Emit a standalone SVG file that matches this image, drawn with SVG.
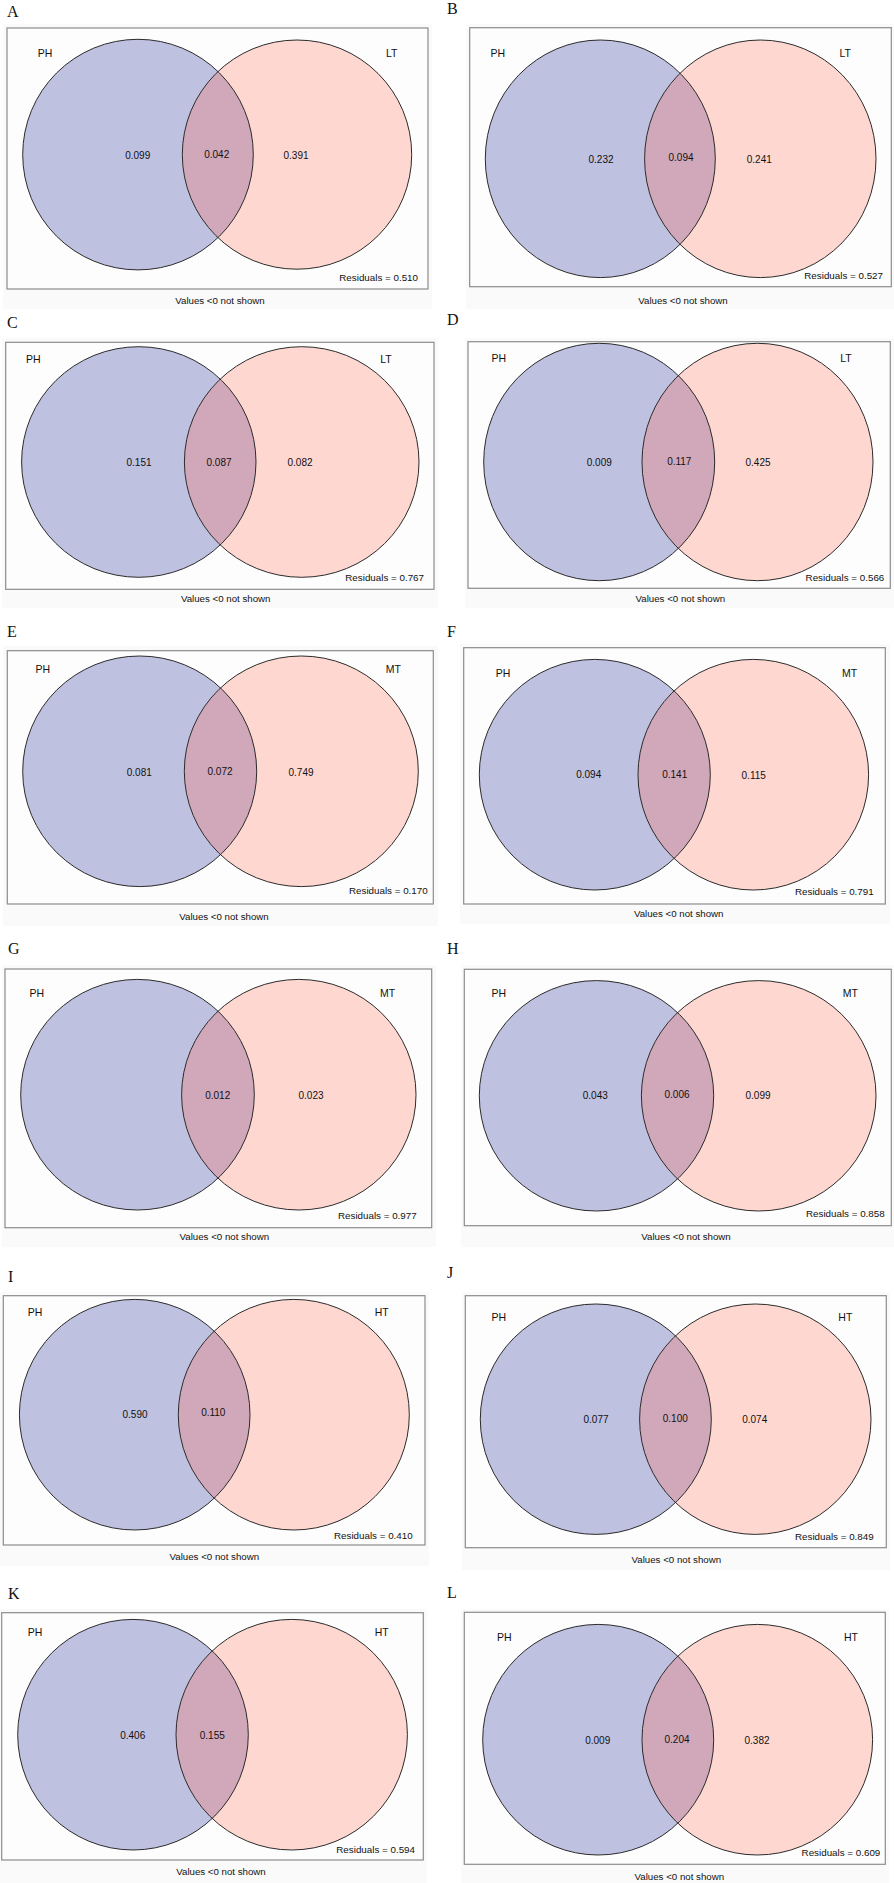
<svg xmlns="http://www.w3.org/2000/svg" width="894" height="1883" viewBox="0 0 894 1883">
<style>
.bg{fill:#fafafa}
.box{fill:#fdfdfd;stroke:#8c8c8c;stroke-width:1.2}
.cl{fill:#bfc1e0}
.cr{fill:#fed8d0}
.lens{fill:#d1a8b9}
.ol{fill:none;stroke:#2b2b2b;stroke-width:1}
.t{font-family:"Liberation Sans",Arial,sans-serif;font-size:10px;fill:#111;text-anchor:middle}
.s{font-family:"Liberation Sans",Arial,sans-serif;font-size:10.5px;fill:#111;text-anchor:middle}
.r{font-family:"Liberation Sans",Arial,sans-serif;font-size:9.8px;fill:#111;text-anchor:end}
.v{font-family:"Liberation Sans",Arial,sans-serif;font-size:9.7px;fill:#111;text-anchor:middle}
.pl{font-family:"Liberation Serif","Times New Roman",serif;font-size:16px;fill:#111}
</style>
<defs>
<clipPath id="cA"><ellipse cx="138" cy="154.6" rx="115.3" ry="115.3"/></clipPath>
<clipPath id="cB"><ellipse cx="600.3" cy="158.8" rx="115" ry="118.8"/></clipPath>
<clipPath id="cC"><ellipse cx="138.8" cy="462" rx="117.2" ry="115.3"/></clipPath>
<clipPath id="cD"><ellipse cx="599.2" cy="462" rx="115.5" ry="118.7"/></clipPath>
<clipPath id="cE"><ellipse cx="139.7" cy="771.3" rx="117" ry="115.3"/></clipPath>
<clipPath id="cF"><ellipse cx="594.8" cy="774.7" rx="115.5" ry="115.3"/></clipPath>
<clipPath id="cG"><ellipse cx="137.5" cy="1094.7" rx="116.8" ry="115.3"/></clipPath>
<clipPath id="cH"><ellipse cx="596.5" cy="1095.8" rx="117.2" ry="115.2"/></clipPath>
<clipPath id="cI"><ellipse cx="134.7" cy="1414.7" rx="115.3" ry="115.3"/></clipPath>
<clipPath id="cJ"><ellipse cx="595.8" cy="1419.2" rx="115.5" ry="115.2"/></clipPath>
<clipPath id="cK"><ellipse cx="133" cy="1734.7" rx="115.3" ry="115.3"/></clipPath>
<clipPath id="cL"><ellipse cx="598.2" cy="1739.7" rx="115.5" ry="115.3"/></clipPath>
</defs>
<rect x="0" y="0" width="894" height="1883" fill="#ffffff"/>

<g id="panelA">
<text class="pl" x="7" y="17">A</text>
<rect class="bg" x="3" y="24" width="429" height="285"/>
<rect class="box" x="7" y="28" width="421" height="261"/>
<ellipse class="cl" cx="138" cy="154.6" rx="115.3" ry="115.3"/>
<ellipse class="cr" cx="297" cy="154.6" rx="114.7" ry="114.6"/>
<ellipse class="lens" clip-path="url(#cA)" cx="297" cy="154.6" rx="114.7" ry="114.6"/>
<ellipse class="ol" cx="138" cy="154.6" rx="115.3" ry="115.3"/>
<ellipse class="ol" cx="297" cy="154.6" rx="114.7" ry="114.6"/>
<text class="s" x="45" y="56.5">PH</text>
<text class="s" x="391.7" y="56.5">LT</text>
<text class="t" x="137.7" y="158.5">0.099</text>
<text class="t" x="216.7" y="157.5">0.042</text>
<text class="t" x="296" y="158.5">0.391</text>
<text class="r" x="418" y="281.2">Residuals = 0.510</text>
<text class="v" x="220" y="303.5">Values &lt;0 not shown</text>
</g>

<g id="panelB">
<text class="pl" x="447" y="13.5">B</text>
<rect class="bg" x="466" y="24" width="428" height="285"/>
<rect class="box" x="469.7" y="27.7" width="421.6" height="259"/>
<ellipse class="cl" cx="600.3" cy="158.8" rx="115" ry="118.8"/>
<ellipse class="cr" cx="760.3" cy="158.8" rx="115.7" ry="118.8"/>
<ellipse class="lens" clip-path="url(#cB)" cx="760.3" cy="158.8" rx="115.7" ry="118.8"/>
<ellipse class="ol" cx="600.3" cy="158.8" rx="115" ry="118.8"/>
<ellipse class="ol" cx="760.3" cy="158.8" rx="115.7" ry="118.8"/>
<text class="s" x="497.7" y="56.5">PH</text>
<text class="s" x="845.3" y="56.5">LT</text>
<text class="t" x="601" y="162.5">0.232</text>
<text class="t" x="681" y="160.8">0.094</text>
<text class="t" x="759.3" y="162.5">0.241</text>
<text class="r" x="883" y="279.2">Residuals = 0.527</text>
<text class="v" x="683" y="303.5">Values &lt;0 not shown</text>
</g>

<g id="panelC">
<text class="pl" x="7" y="328">C</text>
<rect class="bg" x="2" y="338" width="436" height="270"/>
<rect class="box" x="5.7" y="342.3" width="428.3" height="247"/>
<ellipse class="cl" cx="138.8" cy="462" rx="117.2" ry="115.3"/>
<ellipse class="cr" cx="301.7" cy="462" rx="117.3" ry="115.3"/>
<ellipse class="lens" clip-path="url(#cC)" cx="301.7" cy="462" rx="117.3" ry="115.3"/>
<ellipse class="ol" cx="138.8" cy="462" rx="117.2" ry="115.3"/>
<ellipse class="ol" cx="301.7" cy="462" rx="117.3" ry="115.3"/>
<text class="s" x="33.3" y="362.8">PH</text>
<text class="s" x="386" y="362.8">LT</text>
<text class="t" x="139" y="466.2">0.151</text>
<text class="t" x="219" y="466.2">0.087</text>
<text class="t" x="300" y="466.2">0.082</text>
<text class="r" x="424" y="580.8">Residuals = 0.767</text>
<text class="v" x="225.7" y="602.2">Values &lt;0 not shown</text>
</g>

<g id="panelD">
<text class="pl" x="447" y="325">D</text>
<rect class="bg" x="465" y="338" width="429" height="270"/>
<rect class="box" x="468" y="341.7" width="422.3" height="246.6"/>
<ellipse class="cl" cx="599.2" cy="462" rx="115.5" ry="118.7"/>
<ellipse class="cr" cx="757.5" cy="462" rx="115.5" ry="118.7"/>
<ellipse class="lens" clip-path="url(#cD)" cx="757.5" cy="462" rx="115.5" ry="118.7"/>
<ellipse class="ol" cx="599.2" cy="462" rx="115.5" ry="118.7"/>
<ellipse class="ol" cx="757.5" cy="462" rx="115.5" ry="118.7"/>
<text class="s" x="498.7" y="361.5">PH</text>
<text class="s" x="846" y="361.5">LT</text>
<text class="t" x="599.3" y="466.2">0.009</text>
<text class="t" x="679.3" y="465.2">0.117</text>
<text class="t" x="758" y="466.2">0.425</text>
<text class="r" x="884.3" y="581.2">Residuals = 0.566</text>
<text class="v" x="680.3" y="601.8">Values &lt;0 not shown</text>
</g>

<g id="panelE">
<text class="pl" x="7" y="637">E</text>
<rect class="bg" x="3" y="646" width="435" height="280"/>
<rect class="box" x="7.3" y="650.7" width="426" height="253.3"/>
<ellipse class="cl" cx="139.7" cy="771.3" rx="117" ry="115.3"/>
<ellipse class="cr" cx="301.3" cy="771.3" rx="117" ry="115.3"/>
<ellipse class="lens" clip-path="url(#cE)" cx="301.3" cy="771.3" rx="117" ry="115.3"/>
<ellipse class="ol" cx="139.7" cy="771.3" rx="117" ry="115.3"/>
<ellipse class="ol" cx="301.3" cy="771.3" rx="117" ry="115.3"/>
<text class="s" x="42.7" y="673.1">PH</text>
<text class="s" x="393.3" y="673.1">MT</text>
<text class="t" x="139.3" y="775.5">0.081</text>
<text class="t" x="220" y="774.5">0.072</text>
<text class="t" x="301" y="775.5">0.749</text>
<text class="r" x="427.7" y="894.2">Residuals = 0.170</text>
<text class="v" x="224" y="919.5">Values &lt;0 not shown</text>
</g>

<g id="panelF">
<text class="pl" x="447" y="637">F</text>
<rect class="bg" x="460" y="644" width="430" height="280"/>
<rect class="box" x="463.7" y="647.7" width="421.6" height="256.3"/>
<ellipse class="cl" cx="594.8" cy="774.7" rx="115.5" ry="115.3"/>
<ellipse class="cr" cx="753.3" cy="774.7" rx="115.3" ry="115.3"/>
<ellipse class="lens" clip-path="url(#cF)" cx="753.3" cy="774.7" rx="115.3" ry="115.3"/>
<ellipse class="ol" cx="594.8" cy="774.7" rx="115.5" ry="115.3"/>
<ellipse class="ol" cx="753.3" cy="774.7" rx="115.3" ry="115.3"/>
<text class="s" x="503" y="676.5">PH</text>
<text class="s" x="849.7" y="676.5">MT</text>
<text class="t" x="588.7" y="777.5">0.094</text>
<text class="t" x="674.7" y="777.5">0.141</text>
<text class="t" x="753.7" y="778.5">0.115</text>
<text class="r" x="873.7" y="894.5">Residuals = 0.791</text>
<text class="v" x="678.7" y="916.8">Values &lt;0 not shown</text>
</g>

<g id="panelG">
<text class="pl" x="8" y="954">G</text>
<rect class="bg" x="2" y="965" width="434" height="282"/>
<rect class="box" x="5" y="969" width="426.7" height="258.7"/>
<ellipse class="cl" cx="137.5" cy="1094.7" rx="116.8" ry="115.3"/>
<ellipse class="cr" cx="298.8" cy="1094.7" rx="117.2" ry="115.3"/>
<ellipse class="lens" clip-path="url(#cG)" cx="298.8" cy="1094.7" rx="117.2" ry="115.3"/>
<ellipse class="ol" cx="137.5" cy="1094.7" rx="116.8" ry="115.3"/>
<ellipse class="ol" cx="298.8" cy="1094.7" rx="117.2" ry="115.3"/>
<text class="s" x="36.7" y="996.5">PH</text>
<text class="s" x="387.7" y="996.5">MT</text>
<text class="t" x="217.7" y="1098.5">0.012</text>
<text class="t" x="311" y="1098.5">0.023</text>
<text class="r" x="416.7" y="1218.5">Residuals = 0.977</text>
<text class="v" x="224.3" y="1240.2">Values &lt;0 not shown</text>
</g>

<g id="panelH">
<text class="pl" x="447" y="954">H</text>
<rect class="bg" x="461" y="965" width="433" height="282"/>
<rect class="box" x="464.3" y="969.3" width="427" height="256.4"/>
<ellipse class="cl" cx="596.5" cy="1095.8" rx="117.2" ry="115.2"/>
<ellipse class="cr" cx="758.7" cy="1095.8" rx="117.3" ry="115.2"/>
<ellipse class="lens" clip-path="url(#cH)" cx="758.7" cy="1095.8" rx="117.3" ry="115.2"/>
<ellipse class="ol" cx="596.5" cy="1095.8" rx="117.2" ry="115.2"/>
<ellipse class="ol" cx="758.7" cy="1095.8" rx="117.3" ry="115.2"/>
<text class="s" x="498.7" y="997.1">PH</text>
<text class="s" x="850.3" y="997.1">MT</text>
<text class="t" x="595.3" y="1098.5">0.043</text>
<text class="t" x="677" y="1097.8">0.006</text>
<text class="t" x="758" y="1099.2">0.099</text>
<text class="r" x="884.7" y="1216.8">Residuals = 0.858</text>
<text class="v" x="686" y="1240.2">Values &lt;0 not shown</text>
</g>

<g id="panelI">
<text class="pl" x="8" y="1281.7">I</text>
<rect class="bg" x="0" y="1292" width="429" height="274"/>
<rect class="box" x="3.3" y="1295.7" width="421.7" height="249.3"/>
<ellipse class="cl" cx="134.7" cy="1414.7" rx="115.3" ry="115.3"/>
<ellipse class="cr" cx="293.8" cy="1414.7" rx="115.5" ry="115.3"/>
<ellipse class="lens" clip-path="url(#cI)" cx="293.8" cy="1414.7" rx="115.5" ry="115.3"/>
<ellipse class="ol" cx="134.7" cy="1414.7" rx="115.3" ry="115.3"/>
<ellipse class="ol" cx="293.8" cy="1414.7" rx="115.5" ry="115.3"/>
<text class="s" x="35" y="1315.5">PH</text>
<text class="s" x="381.7" y="1315.5">HT</text>
<text class="t" x="135" y="1417.8">0.590</text>
<text class="t" x="213.3" y="1416.2">0.110</text>
<text class="r" x="412.7" y="1538.5">Residuals = 0.410</text>
<text class="v" x="214.3" y="1559.5">Values &lt;0 not shown</text>
</g>

<g id="panelJ">
<text class="pl" x="447" y="1278">J</text>
<rect class="bg" x="462" y="1292" width="428" height="278"/>
<rect class="box" x="465.3" y="1295.7" width="421" height="252"/>
<ellipse class="cl" cx="595.8" cy="1419.2" rx="115.5" ry="115.2"/>
<ellipse class="cr" cx="755.3" cy="1419.2" rx="115.7" ry="115.2"/>
<ellipse class="lens" clip-path="url(#cJ)" cx="755.3" cy="1419.2" rx="115.7" ry="115.2"/>
<ellipse class="ol" cx="595.8" cy="1419.2" rx="115.5" ry="115.2"/>
<ellipse class="ol" cx="755.3" cy="1419.2" rx="115.7" ry="115.2"/>
<text class="s" x="498.7" y="1320.5">PH</text>
<text class="s" x="845.3" y="1320.5">HT</text>
<text class="t" x="596" y="1422.8">0.077</text>
<text class="t" x="675.3" y="1421.8">0.100</text>
<text class="t" x="754.7" y="1422.8">0.074</text>
<text class="r" x="873.7" y="1540.2">Residuals = 0.849</text>
<text class="v" x="676.3" y="1562.8">Values &lt;0 not shown</text>
</g>

<g id="panelK">
<text class="pl" x="8" y="1599">K</text>
<rect class="bg" x="0" y="1609" width="427" height="274"/>
<rect class="box" x="1.7" y="1612.7" width="421.6" height="247.3"/>
<ellipse class="cl" cx="133" cy="1734.7" rx="115.3" ry="115.3"/>
<ellipse class="cr" cx="291.7" cy="1734.7" rx="115.7" ry="115.3"/>
<ellipse class="lens" clip-path="url(#cK)" cx="291.7" cy="1734.7" rx="115.7" ry="115.3"/>
<ellipse class="ol" cx="133" cy="1734.7" rx="115.3" ry="115.3"/>
<ellipse class="ol" cx="291.7" cy="1734.7" rx="115.7" ry="115.3"/>
<text class="s" x="35" y="1635.5">PH</text>
<text class="s" x="381.7" y="1635.5">HT</text>
<text class="t" x="132.7" y="1738.5">0.406</text>
<text class="t" x="212.3" y="1738.5">0.155</text>
<text class="r" x="415" y="1852.8">Residuals = 0.594</text>
<text class="v" x="221" y="1874.5">Values &lt;0 not shown</text>
</g>

<g id="panelL">
<text class="pl" x="447" y="1598">L</text>
<rect class="bg" x="461" y="1609" width="428" height="274"/>
<rect class="box" x="464.3" y="1612.3" width="421" height="252"/>
<ellipse class="cl" cx="598.2" cy="1739.7" rx="115.5" ry="115.3"/>
<ellipse class="cr" cx="757.3" cy="1739.7" rx="115.3" ry="115.3"/>
<ellipse class="lens" clip-path="url(#cL)" cx="757.3" cy="1739.7" rx="115.3" ry="115.3"/>
<ellipse class="ol" cx="598.2" cy="1739.7" rx="115.5" ry="115.3"/>
<ellipse class="ol" cx="757.3" cy="1739.7" rx="115.3" ry="115.3"/>
<text class="s" x="504.3" y="1640.5">PH</text>
<text class="s" x="851" y="1640.5">HT</text>
<text class="t" x="597.7" y="1743.5">0.009</text>
<text class="t" x="677" y="1742.5">0.204</text>
<text class="t" x="757" y="1743.5">0.382</text>
<text class="r" x="880.3" y="1855.8">Residuals = 0.609</text>
<text class="v" x="679.3" y="1880.2">Values &lt;0 not shown</text>
</g>
<g id="connectors"/>
</svg>
